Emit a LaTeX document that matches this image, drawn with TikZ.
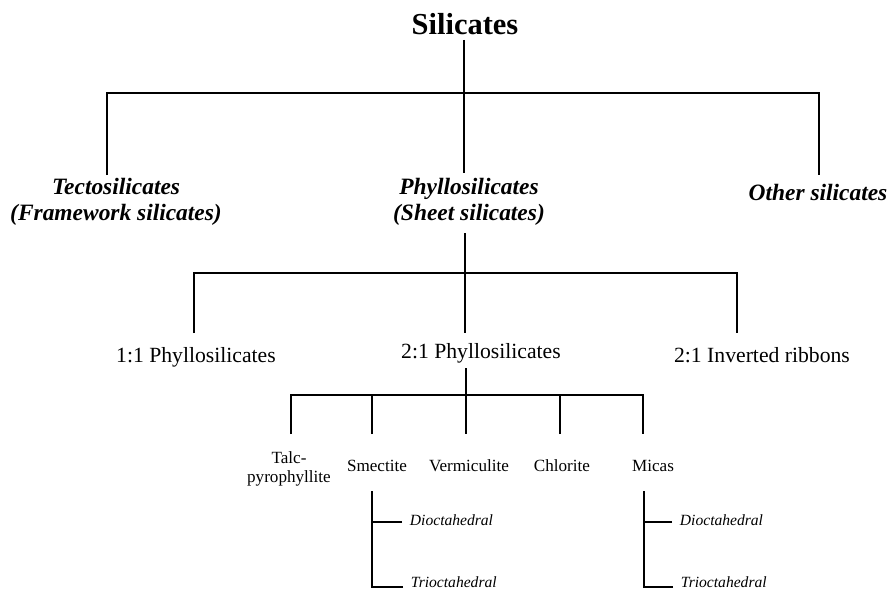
\documentclass[tikz,border=0pt]{standalone}
\usepackage{fontspec}
\setmainfont{Liberation Serif}

\begin{document}
\begin{tikzpicture}[x=0.03cm, y=-0.03cm,
  twig/.style={line width=1.8pt},
  headtext/.style={font=\fontsize{26}{30}\selectfont\bfseries, inner sep=0pt, anchor=base},
  grouptext/.style={font=\fontsize{20}{21.5}\selectfont\bfseries\itshape, align=center, inner sep=0pt, anchor=base},
  typetext/.style={font=\fontsize{18.5}{22}\selectfont, inner sep=0pt, anchor=base},
  claytext/.style={font=\fontsize{14.6}{16}\selectfont, align=center, inner sep=0pt, anchor=base},
  octtext/.style={font=\fontsize{13.3}{16}\selectfont\itshape, inner sep=0pt, outer xsep=6.8pt, outer ysep=0pt, anchor=base west}]
\useasboundingbox (0,0) rectangle (891,591);

% ---------------- Labels ----------------
% (two-line labels are placed by their last line)
\node[headtext] (sil) at (465,35) {Silicates};
\node[grouptext] (tecto) at (116,220) {Tectosilicates\\(Framework silicates)};
\node[grouptext] (phyllo) at (469,220) {Phyllosilicates\\(Sheet silicates)};
\node[grouptext] (other) at (818,200) {Other silicates};
\node[typetext] (p11) at (196,362) {1:1 Phyllosilicates};
\node[typetext] (p21) at (481,358) {2:1 Phyllosilicates};
\node[typetext] (ribbon) at (762,362) {2:1 Inverted ribbons};
\node[claytext] (talc) at (289,482) {Talc-\\pyrophyllite};
\node[claytext] (smec) at (377,471) {Smectite};
\node[claytext] (verm) at (469,471) {Vermiculite};
\node[claytext] (chlor) at (562,471) {Chlorite};
\node[claytext] (mica) at (653,471) {Micas};
\node[octtext] (smecdi) at (402,525) {Dioctahedral};
\node[octtext] (smectri) at (403,587) {Trioctahedral};
\node[octtext] (micadi) at (672,525) {Dioctahedral};
\node[octtext] (micatri) at (673,587) {Trioctahedral};

% ---------------- Silicates ----------------
\coordinate (sil-out) at (464,40);
\coordinate (bar1) at (464,93);
\coordinate (tecto-in) at (107,175);
\coordinate (phyllo-in) at (464,173);
\coordinate (other-in) at (819,175);
\draw[twig] (sil-out) -- (bar1) -- (phyllo-in);
\draw[twig] (tecto-in) |- (bar1) -| (other-in);

% ---------------- Phyllosilicates ----------------
\coordinate (phyllo-out) at (465,233);
\coordinate (bar2) at (465,273);
\coordinate (p11-in) at (194,333);
\coordinate (p21-in) at (465,333);
\coordinate (ribbon-in) at (737,333);
\draw[twig] (phyllo-out) -- (bar2) -- (p21-in);
\draw[twig] (p11-in) |- (bar2) -| (ribbon-in);

% ---------------- 2:1 Phyllosilicates ----------------
\coordinate (p21-out) at (466,368);
\coordinate (bar3) at (466,395);
\coordinate (talc-in) at (291,434);
\coordinate (smec-in) at (372,434);
\coordinate (verm-in) at (466,434);
\coordinate (chlor-in) at (560,434);
\coordinate (mica-in) at (643,434);
\draw[twig] (p21-out) -- (bar3) -- (verm-in);
\draw[twig] (talc-in) |- (bar3) -| (mica-in);
\foreach \c in {smec,chlor} \draw[twig] (\c-in) -- (\c-in |- bar3);

% ---------------- Smectite and Micas ----------------
\coordinate (smec-out) at (372,491);
\coordinate (mica-out) at (644,491);
\foreach \c in {smec,mica} {
  \draw[twig] (\c di.mid west) -| (\c-out);
  \draw[twig] (\c tri.base west) -| (\c-out);
}
\end{tikzpicture}
\end{document}
